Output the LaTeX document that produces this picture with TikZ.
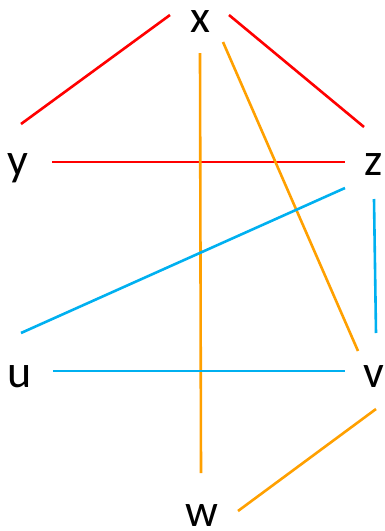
\documentclass[tikz,border=0pt]{standalone}
\usepackage{fontspec}
\setmainfont{Carlito}
\definecolor{ered}{RGB}{255,0,0}
\definecolor{eorange}{RGB}{255,160,0}
\definecolor{eblue}{RGB}{0,176,240}
\begin{document}
\begin{tikzpicture}[x=1pt,y=-1pt,
  lbl/.style={anchor=base,inner sep=0pt,font=\fontsize{46}{50}\selectfont},
  edge/.style={line width=2.6pt}]
\useasboundingbox (0,0) rectangle (384,531);
% labels
\node[lbl] (x) at (200,32) {x};
\node[lbl] (y) at (18,175) {y};
\node[lbl] (z) at (374,175) {z};
\node[lbl] (u) at (20,387) {u};
\node[lbl] (v) at (374,387) {v};
\node[lbl] (w) at (202,526) {w};
% endpoints
\coordinate (xy1) at (170,15); \coordinate (xy2) at (21,124);
\coordinate (xz1) at (229,15); \coordinate (xz2) at (364,127);
\coordinate (yz1) at (52,162); \coordinate (yz2) at (345,162);
\coordinate (xw1) at (200,53); \coordinate (xw2) at (201,473);
\coordinate (xv1) at (223,42); \coordinate (xv2) at (358,351);
\coordinate (vw1) at (376,409); \coordinate (vw2) at (238,511);
\coordinate (zu1) at (345,188); \coordinate (zu2) at (21,333);
\coordinate (zv1) at (374,199); \coordinate (zv2) at (376,333);
\coordinate (uv1) at (53,371); \coordinate (uv2) at (345,371);
% edges
\draw[edge,ered] (xy1) -- (xy2);
\draw[edge,ered] (xz1) -- (xz2);
\draw[edge,ered] (yz1) -- (yz2);
\draw[edge,eorange] (xw1) -- (xw2);
\draw[edge,eorange] (xv1) -- (xv2);
\draw[edge,eorange] (vw1) -- (vw2);
\draw[edge,eblue] (zu1) -- (zu2);
\draw[edge,eblue] (zv1) -- (zv2);
\draw[edge,eblue] (uv1) -- (uv2);
\end{tikzpicture}
\end{document}
